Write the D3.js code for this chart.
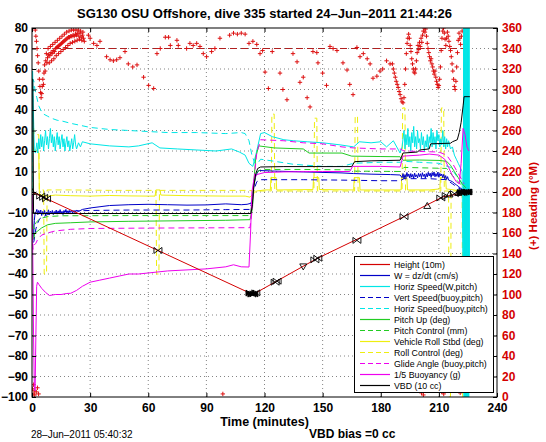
<!DOCTYPE html>
<html><head><meta charset="utf-8">
<script src="https://cdn.jsdelivr.net/npm/d3@7"></script>
<style>body{margin:0;background:#fff}svg{display:block}</style>
</head><body>
<svg id="c" width="546" height="442"></svg>
<script>
// ---------------- DATA ----------------
const titleText = "SG130 OSU Offshore, dive 335 started 24\u2013Jun\u20132011 21:44:26";
const xTicks = [0,30,60,90,120,150,180,210,240];
const leftTicks = [-100,-90,-80,-70,-60,-50,-40,-30,-20,-10,0,10,20,30,40,50,60,70,80];
const rightTicks = [0,20,40,60,80,100,120,140,160,180,200,220,240,260,280,300,320,340,360];

// time (min), value
const heightLine = [[0,0],[114,-50],[147,-32.5],[192,-12],[212,-2.4],[225,0]];
const markT = [0,4.5,6,7.5,65,112.5,113.5,114.5,115.5,125.5,126.5,140,146,147.5,167.7,192,204,211,213,215.5,218,220,221.5,222.5,223.5,224.5,225];
const markV = [0,-2,-2.6,-3.3,-28.5,-49.3,-49.8,-49.7,-49.2,-44,-43.5,-36.3,-33.1,-32.3,-23.6,-12,-6.8,-2.9,-2,-1.2,-0.8,-0.5,-0.3,-0.2,0,0,0];
const markType = ["tu","bow","bow","bow","bow","fill","fill","fill","bow","bow","bow","td","bow","bow","bow","bow","tu","bow","tr","tu","bow","tu","fill","fill","fill","fill","fill"];

const wSpeed = [[0,-1],[0.4,-18],[0.8,-22],[1.2,-14],[1.6,-10],[2,-10],[2.5,-8.5],[3,-11],[3.5,-9],[4,-10.5],[4.5,-8.8],[5,-11.5],[5.5,-9.5],[6,-10.8],[6.5,-9],[7,-11.2],[7.5,-9.8],[8,-10.5],[8.5,-8.7],[9,-11],[9.5,-9.3],[10,-10.6],[10.5,-9],[11,-11],[11.5,-9.5],[12,-10.2],[12.5,-8.8],[13,-10.8],[13.5,-9.2],[14,-10.4],[14.5,-8.6],[15,-10.5],[15.5,-9.4],[16,-11],[16.5,-9],[17,-10],[17.5,-8.5],[18,-10.5],[18.5,-9.2],[19,-10.6],[19.5,-9],[20,-10],[20.5,-8.8],[21,-10.3],[21.5,-9.2],[22,-10],[23,-9],[24,-9.5],[26,-8.5],[30,-7.8],[40,-6.6],[50,-6.2],[60,-6],[70,-6.2],[80,-6.4],[90,-6.3],[100,-5.8],[108,-6.2],[111,-6],[113,-5.5],[113.8,-3],[114.5,3],[115.5,8],[117,10.5],[125,10.2],[140,9.8],[160,9.3],[166,9],[175,8.7],[185,8.5],[190,8.3],[191,7],[191.5,9],[192,6.5],[192.5,8.5],[193,7],[193.5,9.5],[194,7.5],[194.5,8.8],[195,6.8],[195.5,9],[196,7.2],[196.5,8.6],[197,6.6],[197.5,9.2],[198,7.4],[198.5,8.4],[199,6.9],[199.5,9.1],[200,7.5],[200.5,8.9],[201,7],[201.5,9.4],[202,7.6],[202.5,8.7],[203,6.8],[203.5,9],[204,7.3],[204.5,9.6],[205,7.8],[205.5,9.2],[206,7.1],[206.5,9.5],[207,7.9],[207.5,9.8],[208,7.4],[208.5,9],[209,7.6],[209.5,9.7],[210,7.2],[210.5,9.1],[211,7.8],[211.5,8.8],[212,7],[212.5,8.6],[213,6.5],[213.5,8],[214,6.2],[214.5,7.5],[215,5.8],[216,5.5],[217,5],[218,4.2],[219,3.5],[220,2.8],[221,2],[222,1.3],[223,0.6],[224,0.2]];

const horizSpeedW = [[0,0],[0.3,59],[0.7,40],[1.2,20],[1.8,19],[2.5,24],[3,19],[3.5,26],[4,21],[4.5,28],[5,22],[5.5,27],[6,20],[6.5,25],[7,30],[7.5,23],[8,27],[8.5,21],[9,26],[9.5,31],[10,24],[10.5,28],[11,22],[11.5,27],[12,20],[12.5,25],[13,29],[13.5,23],[14,27],[14.5,21],[15,25],[15.5,28],[16,22],[16.5,26],[17,20],[17.5,24],[18,27],[18.5,22],[19,25],[19.5,20],[20,23],[20.5,26],[21,21],[21.5,24],[22,28],[22.5,23],[23,21],[24,24],[25,22],[26,24.5],[30,23.5],[40,22.5],[50,22],[55,22.5],[62,24],[66,21.5],[75,21],[85,20.5],[95,20],[103,21],[107,19.5],[110,18],[112,14],[114,12.5],[116,20],[118,28.5],[120,29],[124,27],[130,25.5],[135,25],[142,24.5],[150,24],[159,23],[166,22],[169,24.5],[175,24],[180,24.5],[183,22],[186.5,25],[190,19],[191,22],[192,30],[192.5,21],[193,28],[193.5,23],[194,31],[194.5,22],[195,27],[195.5,20],[196,29],[196.5,24],[197,32],[197.5,22],[198,27],[198.5,21],[199,30],[199.5,24],[200,26],[200.5,21],[201,29],[201.5,23],[202,27],[202.5,20],[203,25],[203.5,22],[204,28],[204.5,21],[205,27],[205.5,24],[206,31],[206.5,22],[207,29],[207.5,23],[208,27],[208.5,21],[209,30],[209.5,25],[210,28],[210.5,22],[211,26],[211.5,23],[212,30],[212.5,22],[213,27],[213.5,21],[214,26],[214.5,22],[215,25],[216,21],[217,22],[218,18],[219,16],[220,14],[221,12],[222,10],[222.6,-60],[222.8,85],[223,-100],[223.2,85],[223.4,-100],[223.6,85],[223.8,-100],[224,85],[224.2,-100],[224.4,85],[224.6,-100],[224.8,85],[225,-100],[225.2,85],[225.4,-100],[225.6,85],[225.8,-40]];

const vertSpeedBuoy = [[0,-1],[0.5,-25],[1,-24],[2,-18],[3,-15],[4,-13],[6,-12],[8,-11],[12,-10],[20,-9.3],[30,-9],[50,-8.8],[80,-8.8],[100,-8.6],[112.5,-8.5],[113.5,-5],[114.5,1],[116,5],[118,6],[140,6],[160,5.8],[180,5.5],[190,5.5],[192,6.5],[205,6.5],[214,6],[217,4],[220,2],[223,0.5]];

const horizSpeedBuoy = [[0,0],[0.5,55],[1,54],[1.5,50],[2.5,46],[3.5,42],[4.5,40],[6,38],[8,37],[10,36],[13,35],[16,34.5],[20,33.5],[25,32.5],[30,31.5],[40,30.5],[50,30],[60,29.5],[70,29],[85,29],[100,28.5],[108,29],[110,28.5],[112,25],[113.5,18],[115,14],[116.5,14],[118,16],[125,15],[135,13.5],[150,12.5],[160,12.5],[166,14],[180,14.5],[190,14.5],[192,15],[200,14.5],[210,14],[216,12],[219,8],[222,4]];

const pitchUp = [[0,-1],[0.4,-20],[0.8,-23],[1.5,-20],[3,-19],[5,-17.5],[8,-16],[12,-15.3],[20,-15],[30,-14.6],[50,-14.3],[80,-14],[100,-13.8],[112.5,-13.5],[113.8,-8],[114.5,5],[115.5,17],[117,22.5],[125,21.5],[140,21],[143,19],[160,19],[165,17.5],[180,17.3],[190,17.2],[191.5,15.5],[200,15.6],[210,15.4],[214,15],[216,13],[218,10],[220,7],[222,4],[224,2]];

const pitchControl = [[0,-1],[0.5,-16],[1,-18],[2,-15],[4,-13],[8,-12],[15,-11.6],[50,-11.5],[112.5,-11.5],[113.5,-6],[114.5,4],[116,9.5],[118,11],[140,11],[165,10.8],[166,10.2],[190,10],[192,12],[214,11.5],[217,8],[220,5],[223,2]];

const rollStbd = [[0,0],[0.3,45],[0.6,22],[1,20],[2,20.5],[3,20],[3.5,19],[3.8,-1],[5,-1.5],[8,-2],[12,-1.5],[20,-1.8],[30,-2],[40,-1.7],[50,-1.9],[60,-2],[63.5,-2],[64,1],[66,1],[66.5,-1.5],[80,-1.8],[100,-2],[110,-2],[112.5,-2.5],[114,-1],[116,0.5],[120,1],[123,1],[123.3,7],[126,7],[126.3,1],[145,1.2],[145.3,7],[148,7],[148.3,1.2],[166,1],[166.3,7],[169,7],[169.3,1],[190.5,1],[190.8,7],[193.5,7],[193.8,1],[205,1],[210.5,1.5],[210.8,7],[213.5,7],[213.8,1.5],[218,1],[221,0.5],[224,0.5]];

const rollControl = [[0,0],[0.4,40],[1,28],[3.5,28],[3.8,1],[6,1],[6.3,-40],[7.5,-40],[7.8,1],[20,1],[40,0.8],[64,0.8],[64.3,-40],[65.5,-40],[65.8,0.8],[100,0.8],[112,0.8],[114,0.5],[123.5,0.5],[123.8,38],[125,38],[125.3,0.5],[145.5,0.5],[145.8,36],[147,36],[147.3,0.5],[166.5,0.5],[166.8,37],[168,37],[168.3,0.5],[191,0.5],[191.3,41],[192.5,41],[192.8,0.5],[211,0.5],[211.3,41],[212.5,41],[212.8,0.5],[215,0.5],[215.3,-100],[216,-100],[216.3,0.5],[222,0.5],[222.3,-100],[223,-100],[223.3,0.5],[225,0.5]];

const glideAngle = [[0,-1],[0.5,-28],[1,-26],[2,-25],[3,-23],[5,-21],[8,-20],[12,-19],[20,-18.2],[30,-17.8],[60,-17.6],[112.5,-17.4],[113.5,-10],[114.5,5],[116,19],[118,25.5],[130,25],[140,24],[150,23.5],[160,22],[166,21.5],[180,21],[190,21],[192,20],[210,19.5],[214,18],[217,14],[220,9],[223,4]];

const buoyancy = [[0,-1],[0.4,-30],[0.8,-70],[1.2,-95],[1.6,-97],[2,-70],[2.4,-46],[2.8,-44],[3.5,-45],[5,-47],[7,-49],[9,-50.5],[12,-50],[15,-50],[18,-49.5],[20,-49.4],[23,-48],[26,-46],[30,-44],[35,-43],[40,-42],[45,-41],[50,-40],[55,-40],[60,-39.5],[70,-38.5],[80,-38],[90,-37.5],[100,-36.5],[104,-35.5],[108,-36.5],[112,-36.6],[112.8,-20],[113.5,0],[114.5,6],[116,8.5],[120,9.5],[130,9.8],[150,10],[164,10],[165.5,12.5],[180,12.5],[190,12.2],[191.5,17.5],[200,18],[205,18.5],[210,18],[213,16],[215,12],[217,8],[219,5],[220.5,4],[221.5,14],[222.5,31],[223.5,28],[224.5,22],[225.5,20]];

const vbd = [[0,55],[0.4,55],[0.8,-10.5],[113,-10.5],[113.8,-6],[114.5,3],[115.5,9],[116.5,11.5],[118,12.2],[130,12.4],[165,12.4],[166.5,14.8],[175,15.2],[190,15.5],[191.5,19],[199,19.5],[200,20.5],[205,21],[205.8,23.5],[216,23.8],[217,24.5],[219.5,25.5],[220.5,29],[221.5,34],[222.5,42],[223,46.5],[226,46.5]];

// heading (deg, right axis)
const targetHeading = [[0,340],[225,340]];
const heading = [[0.2,8],[0.5,3],[0.8,12],[1.1,6],[1.4,2],[2.2,5],[2.8,9],[3.4,3],
[1.7,358],[2.0,352],[2.3,347],[2.6,340],[2.9,333],[3.2,326],[3.5,318],[3.8,310],[4.1,303],[4.4,297],[4.7,292],[5.0,296],[5.3,303],[5.6,310],[5.9,305],[6.2,316],[6.5,324],[6.8,318],[7.1,328],[7.4,335],[7.7,326],[8.0,331],[8.3,340],[8.6,334],[8.9,326],[9.2,333],[9.5,342],[9.8,336],[10.1,328],[10.4,335],[10.7,344],[11,338],[11.3,330],[11.6,337],[11.9,346],[12.2,340],[12.5,333],[12.8,341],[13.1,348],[13.4,342],[13.7,335],[14,343],[14.3,350],[14.6,344],[14.9,337],[15.2,345],[15.5,352],[15.8,346],[16.1,339],[16.4,347],[16.7,354],[17,348],[17.3,341],[17.6,349],[17.9,356],[18.2,350],[18.5,343],[18.8,351],[19.1,357],[19.4,351],[19.7,345],[20,352],[20.3,358],[20.6,352],[20.9,346],[21.2,353],[21.5,358],[21.8,352],[22.1,347],[22.4,354],[22.7,358],[23,353],[23.3,348],[23.6,355],[23.9,358],[24.2,352],[24.5,349],[24.8,355],[25.1,357],[25.4,351],[25.7,348],[26,353],[26.3,356],[26.6,350],[27,347],
[29.1,353],[30,350],[31.8,345],[33.5,343],[35.1,347],[38.5,332],[40.3,329],[42,328],[43.7,329],[45.4,331],[48,337],[49.7,325],[52,322],[54.2,324],[57.6,312],[60.2,304],[62.8,301],[64.5,335],[66.2,340],[68.8,351],[70.5,351],[71.4,343],[74.8,348],[75.5,343],[79.8,340],[81.5,345],[83.2,343],[85,345],[86.7,342],[88.4,335],[90.1,332],[92.7,337],[94.4,340],[97,350],[98.5,3],[102,353],[104,355],[106,354],[108,355],[110,354],[112,345],[114,347],[116,344],[117.7,335],[119,338],[120.3,317],[122,301],[124,337],[128,316],[129.5,300],[131.6,290],[134.7,335],[136.8,327],[138.3,307],[140,312],[142,292],[143.5,283],[145,337],[147,336],[147.6,326],[150,316],[152,304],[153.8,342],[155.4,340],[157.4,338],[160.5,326],[162.6,319],[164,305],[165.7,295],[167.7,341],[169.3,332],[171,335],[173,330],[174.5,325],[176,311],[178,313],[179.6,318],[181,320],[183,328],[184.8,325],
[186,325],[186.5,320],[187,316],[187.5,312],[188,308],[188.5,305],[189,302],[189.5,298],[190,295],[190.5,291],[191,288],[191.5,287],[192,292],[192.4,305],[192.8,320],[193.2,335],[193.6,345],[194,350],[194.4,354],[194.8,350],[195.2,343],[195.6,337],[196,330],[196.4,325],[196.8,320],[197.2,317],[197.6,316],[198,320],[198.4,328],[198.8,336],[199.2,343],[199.6,339],[200,346],[200.4,342],[200.8,350],[201.2,346],[201.6,353],[202,357],[202.4,360],[202.8,356],[203.2,359],[203.6,352],[204,345],[204.4,340],[204.8,336],[205.2,332],[205.6,328],[206,330],[206.4,325],[206.8,322],[207.2,318],[207.6,315],[208,318],[208.4,312],[208.8,308],[209.2,305],[209.6,302],[210,304],[210.4,310],[210.8,322],[211.2,338],[211.6,350],[212,357],[212.4,360],[212.8,355],[213.2,349],[213.6,343],[214,350],[214.4,356],[214.8,352],[215.2,347],[215.6,342],[216,338],[216.4,332],[216.8,325],[217.2,318],[217.6,310],[218,303],[218.4,300],[218.8,308],[219.2,322],[219.6,336],[220,348],[220.4,355],[220.8,350],[221.2,344],[221.6,352],[222,357],
[201,4],[202,2],[211.5,5],[212.5,3],[221,4]];

const legendLabels = ["Height (10m)","W = dz/dt (cm/s)","Horiz Speed(W,pitch)","Vert Speed(buoy,pitch)","Horiz Speed(buoy,pitch)","Pitch Up (deg)","Pitch Control (mm)","Vehicle Roll Stbd (deg)","Roll Control (deg)","Glide Angle (buoy,pitch)","1/5 Buoyancy (g)","VBD (10 cc)"];

// ---------------- DRAW ----------------
const FONT = "'Liberation Sans', Arial, Helvetica, sans-serif";
const RED = "#d40000", NAVY = "#0000c8", CYAN = "#00e6e6", GREEN = "#22cc22", YEL = "#eeee10", MAG = "#ee00ee";
const svg = d3.select("#c").style("font-family", FONT);
const L = 32, R = 497, T = 28, B = 397;
const x = d3.scaleLinear().domain([0,240]).range([L,R]);
const yL = d3.scaleLinear().domain([-100,80]).range([B,T]);
const yR = d3.scaleLinear().domain([0,360]).range([B,T]);

svg.append("defs").append("clipPath").attr("id","clip")
  .append("rect").attr("x",L).attr("y",T).attr("width",R-L).attr("height",B-T);

// grid
const grid = svg.append("g").attr("stroke","#000").attr("stroke-width",0.8)
  .attr("stroke-dasharray","1,3").attr("opacity",0.6);
grid.selectAll(".gx").data(xTicks.slice(1,-1)).join("line")
  .attr("x1",d=>x(d)).attr("x2",d=>x(d)).attr("y1",T).attr("y2",B);
grid.selectAll(".gy").data(leftTicks.slice(1,-1)).join("line")
  .attr("y1",d=>yL(d)).attr("y2",d=>yL(d)).attr("x1",L).attr("x2",R);

const plot = svg.append("g").attr("clip-path","url(#clip)");

// heading (right axis)
plot.append("path").datum(targetHeading)
  .attr("d", d3.line().x(d=>x(d[0])).y(d=>yR(d[1])))
  .attr("fill","none").attr("stroke","#b02020").attr("stroke-width",1).attr("stroke-dasharray","7,4");
plot.append("g").selectAll("path").data(heading).join("path")
  .attr("d", d=>{const px=x(d[0]), py=yR(d[1]); return `M${px-2.2},${py}H${px+2.2}M${px},${py-2.2}V${py+2.2}`;})
  .attr("stroke","#dd1010").attr("stroke-width",1).attr("fill","none");

const series = [
  {name:legendLabels[0], data:heightLine, color:RED, dash:null},
  {name:legendLabels[1], data:wSpeed, color:NAVY, dash:null},
  {name:legendLabels[2], data:horizSpeedW, color:CYAN, dash:null},
  {name:legendLabels[3], data:vertSpeedBuoy, color:NAVY, dash:"6,4"},
  {name:legendLabels[4], data:horizSpeedBuoy, color:CYAN, dash:"6,4"},
  {name:legendLabels[5], data:pitchUp, color:GREEN, dash:null},
  {name:legendLabels[6], data:pitchControl, color:GREEN, dash:"6,4"},
  {name:legendLabels[7], data:rollStbd, color:YEL, dash:null},
  {name:legendLabels[8], data:rollControl, color:YEL, dash:"6,4"},
  {name:legendLabels[9], data:glideAngle, color:MAG, dash:"6,4"},
  {name:legendLabels[10], data:buoyancy, color:MAG, dash:null},
  {name:legendLabels[11], data:vbd, color:"#000", dash:null}
];
const line = d3.line().x(d=>x(d[0])).y(d=>yL(d[1]));
const drawOrder = [8,7,2,4,1,3,5,6,9,10,11,0];
drawOrder.forEach(i=>{
  const s = series[i];
  plot.append("path").datum(s.data).attr("d", line)
    .attr("fill","none").attr("stroke", s.color).attr("stroke-width",1)
    .attr("stroke-dasharray", s.dash);
});

// height markers
const mk = plot.append("g");
markT.forEach((t,i)=>{
  const px = x(t), py = yL(markV[i]), ty = markType[i];
  let d;
  if (ty==="tu") d = `M${px},${py-3.5}L${px+3.5},${py+2.5}L${px-3.5},${py+2.5}Z`;
  else if (ty==="td") d = `M${px},${py+3.5}L${px+3.5},${py-2.5}L${px-3.5},${py-2.5}Z`;
  else if (ty==="tr") d = `M${px+3.5},${py}L${px-2.5},${py-3.5}L${px-2.5},${py+3.5}Z`;
  else d = `M${px-4},${py-3}L${px+4},${py+3}L${px+4},${py-3}L${px-4},${py+3}Z`;
  mk.append("path").attr("d", d).attr("stroke","#000").attr("stroke-width",0.9)
    .attr("fill", ty==="fill" ? "#000" : "none");
});

// axes
const fmt = d3.format("d");
const axL = svg.append("g").attr("transform",`translate(${L},0)`)
  .call(d3.axisLeft(yL).tickValues(leftTicks).tickFormat(fmt).tickSize(-4).tickPadding(4));
const axB = svg.append("g").attr("transform",`translate(0,${B})`)
  .call(d3.axisBottom(x).tickValues(xTicks).tickFormat(fmt).tickSize(-4).tickPadding(6));
const axT = svg.append("g").attr("transform",`translate(0,${T})`)
  .call(d3.axisTop(x).tickValues(xTicks).tickFormat("").tickSize(-4));
const axR = svg.append("g").attr("transform",`translate(${R},0)`)
  .call(d3.axisRight(yR).tickValues(rightTicks).tickFormat(fmt).tickSize(-4).tickPadding(5));
[axL,axB,axT,axR].forEach(a=>{
  a.select(".domain").remove();
  a.selectAll("line").attr("stroke","#000");
  a.selectAll("text").attr("font-family",FONT).attr("font-weight","bold").attr("font-size",12).attr("fill","#000");
});
axR.selectAll("text").attr("fill",RED);
svg.append("rect").attr("x",L).attr("y",T).attr("width",R-L).attr("height",B-T)
  .attr("fill","none").attr("stroke","#000").attr("stroke-width",1);

// legend
const lg = svg.append("g");
lg.append("rect").attr("x",354.5).attr("y",256.5).attr("width",139).attr("height",136)
  .attr("fill","#fff").attr("stroke","#000").attr("stroke-width",1);
series.forEach((s,i)=>{
  const cy = 264.5 + i*11;
  lg.append("line").attr("x1",360).attr("x2",390).attr("y1",cy).attr("y2",cy)
    .attr("stroke",s.color).attr("stroke-width",1.2).attr("stroke-dasharray", s.dash ? "5,3" : null);
  lg.append("text").attr("x",394).attr("y",cy+3).attr("font-size",8.8).attr("fill","#000").text(s.name);
});

// texts
svg.append("text").attr("x",264.5).attr("y",18).attr("text-anchor","middle")
  .attr("font-weight","bold").attr("font-size",13).text(titleText);
svg.append("text").attr("x",264.5).attr("y",426).attr("text-anchor","middle")
  .attr("font-weight","bold").attr("font-size",12.5).text("Time (minutes)");
svg.append("text").attr("x",31).attr("y",438).attr("font-size",10).text("28\u2013Jun\u20132011 05:40:32");
svg.append("text").attr("x",309).attr("y",438).attr("font-weight","bold").attr("font-size",12).text("VBD bias =0 cc");
svg.append("text").attr("transform","translate(537,206) rotate(-90)").attr("text-anchor","middle")
  .attr("font-weight","bold").attr("font-size",11.5).attr("fill",RED).text("(+) Heading (\u00B0M)");
</script>
</body></html>
